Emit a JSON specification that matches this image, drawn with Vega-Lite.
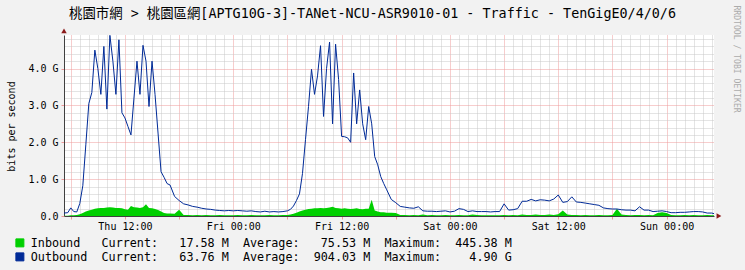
{
  "$schema": "https://vega.github.io/schema/vega-lite/v6.json",
  "width": 650,
  "height": 181,
  "autosize": {"type": "none"},
  "padding": {"left": 64, "top": 35, "right": 31, "bottom": 54},
  "background": "#F2F2F2",
  "view": {"fill": "#FFFFFF", "stroke": null},
  "title": {
    "text": "桃園市網 > 桃園區網[APTG10G-3]-TANet-NCU-ASR9010-01 - Traffic - TenGigE0/4/0/6",
    "font": "DejaVu Sans Mono, Noto Sans CJK TC",
    "fontSize": 13.4,
    "fontWeight": "normal",
    "color": "#000000",
    "anchor": "middle",
    "frame": "group",
    "baseline": "alphabetic",
    "offset": 0,
    "dx": -16.5,
    "dy": 26
  },
  "datasets": {
    "traffic": [
      {"t": "2024-01-04T05:15", "o": 0.08, "i": 0.01},
      {"t": "2024-01-04T05:40", "o": 0.09, "i": 0.01},
      {"t": "2024-01-04T06:00", "o": 0.22, "i": 0.02},
      {"t": "2024-01-04T06:20", "o": 0.12, "i": 0.02},
      {"t": "2024-01-04T06:40", "o": 0.11, "i": 0.03},
      {"t": "2024-01-04T07:00", "o": 0.34, "i": 0.05},
      {"t": "2024-01-04T07:20", "o": 0.82, "i": 0.08},
      {"t": "2024-01-04T07:40", "o": 1.93, "i": 0.12},
      {"t": "2024-01-04T08:00", "o": 3.05, "i": 0.15},
      {"t": "2024-01-04T08:20", "o": 3.35, "i": 0.17},
      {"t": "2024-01-04T08:40", "o": 4.5, "i": 0.2},
      {"t": "2024-01-04T09:00", "o": 4.0, "i": 0.21},
      {"t": "2024-01-04T09:20", "o": 3.3, "i": 0.22},
      {"t": "2024-01-04T09:40", "o": 4.6, "i": 0.22},
      {"t": "2024-01-04T10:00", "o": 2.9, "i": 0.23},
      {"t": "2024-01-04T10:20", "o": 4.9, "i": 0.24},
      {"t": "2024-01-04T10:40", "o": 4.2, "i": 0.23},
      {"t": "2024-01-04T11:00", "o": 3.3, "i": 0.22},
      {"t": "2024-01-04T11:20", "o": 4.78, "i": 0.22},
      {"t": "2024-01-04T11:40", "o": 2.8, "i": 0.21},
      {"t": "2024-01-04T12:00", "o": 2.66, "i": 0.18},
      {"t": "2024-01-04T12:20", "o": 2.43, "i": 0.17},
      {"t": "2024-01-04T12:40", "o": 2.2, "i": 0.27},
      {"t": "2024-01-04T13:00", "o": 3.2, "i": 0.24},
      {"t": "2024-01-04T13:20", "o": 4.2, "i": 0.23},
      {"t": "2024-01-04T13:40", "o": 3.3, "i": 0.22},
      {"t": "2024-01-04T14:00", "o": 4.63, "i": 0.24},
      {"t": "2024-01-04T14:20", "o": 4.2, "i": 0.32},
      {"t": "2024-01-04T14:40", "o": 2.97, "i": 0.22},
      {"t": "2024-01-04T15:00", "o": 4.2, "i": 0.21},
      {"t": "2024-01-04T15:20", "o": 3.3, "i": 0.19},
      {"t": "2024-01-04T15:40", "o": 2.25, "i": 0.16},
      {"t": "2024-01-04T16:00", "o": 1.2, "i": 0.12},
      {"t": "2024-01-04T16:20", "o": 1.05, "i": 0.08},
      {"t": "2024-01-04T16:40", "o": 0.88, "i": 0.07},
      {"t": "2024-01-04T17:00", "o": 0.84, "i": 0.07},
      {"t": "2024-01-04T17:30", "o": 0.53, "i": 0.06},
      {"t": "2024-01-04T18:00", "o": 0.42, "i": 0.17},
      {"t": "2024-01-04T18:30", "o": 0.33, "i": 0.03},
      {"t": "2024-01-04T19:00", "o": 0.3, "i": 0.03},
      {"t": "2024-01-04T19:30", "o": 0.26, "i": 0.02},
      {"t": "2024-01-04T20:00", "o": 0.24, "i": 0.03},
      {"t": "2024-01-04T20:30", "o": 0.21, "i": 0.02},
      {"t": "2024-01-04T21:00", "o": 0.19, "i": 0.03},
      {"t": "2024-01-04T21:30", "o": 0.18, "i": 0.02},
      {"t": "2024-01-04T22:00", "o": 0.16, "i": 0.02},
      {"t": "2024-01-04T22:30", "o": 0.15, "i": 0.03},
      {"t": "2024-01-04T23:00", "o": 0.14, "i": 0.02},
      {"t": "2024-01-04T23:30", "o": 0.15, "i": 0.02},
      {"t": "2024-01-05T00:00", "o": 0.14, "i": 0.02},
      {"t": "2024-01-05T00:30", "o": 0.15, "i": 0.03},
      {"t": "2024-01-05T01:00", "o": 0.14, "i": 0.02},
      {"t": "2024-01-05T01:30", "o": 0.13, "i": 0.02},
      {"t": "2024-01-05T02:00", "o": 0.14, "i": 0.03},
      {"t": "2024-01-05T02:30", "o": 0.12, "i": 0.02},
      {"t": "2024-01-05T03:00", "o": 0.11, "i": 0.02},
      {"t": "2024-01-05T03:30", "o": 0.13, "i": 0.02},
      {"t": "2024-01-05T04:00", "o": 0.11, "i": 0.03},
      {"t": "2024-01-05T04:30", "o": 0.12, "i": 0.02},
      {"t": "2024-01-05T05:00", "o": 0.11, "i": 0.02},
      {"t": "2024-01-05T05:30", "o": 0.12, "i": 0.03},
      {"t": "2024-01-05T06:00", "o": 0.14, "i": 0.03},
      {"t": "2024-01-05T06:20", "o": 0.18, "i": 0.04},
      {"t": "2024-01-05T06:40", "o": 0.27, "i": 0.06},
      {"t": "2024-01-05T07:00", "o": 0.42, "i": 0.09},
      {"t": "2024-01-05T07:20", "o": 0.6, "i": 0.12},
      {"t": "2024-01-05T07:40", "o": 1.15, "i": 0.15},
      {"t": "2024-01-05T08:00", "o": 2.07, "i": 0.17},
      {"t": "2024-01-05T08:20", "o": 2.97, "i": 0.19},
      {"t": "2024-01-05T08:40", "o": 3.98, "i": 0.2},
      {"t": "2024-01-05T09:00", "o": 3.3, "i": 0.21},
      {"t": "2024-01-05T09:20", "o": 3.8, "i": 0.21},
      {"t": "2024-01-05T09:40", "o": 4.62, "i": 0.22},
      {"t": "2024-01-05T10:00", "o": 2.7, "i": 0.21},
      {"t": "2024-01-05T10:20", "o": 4.0, "i": 0.22},
      {"t": "2024-01-05T10:40", "o": 4.72, "i": 0.23},
      {"t": "2024-01-05T11:00", "o": 2.5, "i": 0.25},
      {"t": "2024-01-05T11:20", "o": 4.66, "i": 0.22},
      {"t": "2024-01-05T11:40", "o": 3.7, "i": 0.21},
      {"t": "2024-01-05T12:00", "o": 2.16, "i": 0.2},
      {"t": "2024-01-05T12:20", "o": 2.15, "i": 0.21},
      {"t": "2024-01-05T12:40", "o": 2.12, "i": 0.2},
      {"t": "2024-01-05T13:00", "o": 2.0, "i": 0.19},
      {"t": "2024-01-05T13:20", "o": 3.88, "i": 0.2},
      {"t": "2024-01-05T13:40", "o": 2.5, "i": 0.21},
      {"t": "2024-01-05T14:00", "o": 3.42, "i": 0.19},
      {"t": "2024-01-05T14:20", "o": 2.5, "i": 0.18},
      {"t": "2024-01-05T14:40", "o": 2.07, "i": 0.2},
      {"t": "2024-01-05T15:00", "o": 2.97, "i": 0.2},
      {"t": "2024-01-05T15:20", "o": 2.5, "i": 0.44},
      {"t": "2024-01-05T15:40", "o": 1.61, "i": 0.15},
      {"t": "2024-01-05T16:00", "o": 1.39, "i": 0.12},
      {"t": "2024-01-05T16:20", "o": 1.07, "i": 0.1},
      {"t": "2024-01-05T16:40", "o": 0.88, "i": 0.1},
      {"t": "2024-01-05T17:00", "o": 0.71, "i": 0.09},
      {"t": "2024-01-05T17:30", "o": 0.45, "i": 0.09},
      {"t": "2024-01-05T18:00", "o": 0.36, "i": 0.08},
      {"t": "2024-01-05T18:30", "o": 0.26, "i": 0.03},
      {"t": "2024-01-05T19:00", "o": 0.24, "i": 0.03},
      {"t": "2024-01-05T19:30", "o": 0.22, "i": 0.02},
      {"t": "2024-01-05T20:00", "o": 0.21, "i": 0.03},
      {"t": "2024-01-05T20:30", "o": 0.25, "i": 0.02},
      {"t": "2024-01-05T21:00", "o": 0.14, "i": 0.04},
      {"t": "2024-01-05T21:30", "o": 0.13, "i": 0.02},
      {"t": "2024-01-05T22:00", "o": 0.13, "i": 0.03},
      {"t": "2024-01-05T22:30", "o": 0.12, "i": 0.02},
      {"t": "2024-01-05T23:00", "o": 0.13, "i": 0.02},
      {"t": "2024-01-05T23:30", "o": 0.14, "i": 0.03},
      {"t": "2024-01-06T00:00", "o": 0.11, "i": 0.02},
      {"t": "2024-01-06T00:30", "o": 0.13, "i": 0.02},
      {"t": "2024-01-06T01:00", "o": 0.2, "i": 0.03},
      {"t": "2024-01-06T01:30", "o": 0.18, "i": 0.02},
      {"t": "2024-01-06T02:00", "o": 0.12, "i": 0.02},
      {"t": "2024-01-06T02:30", "o": 0.14, "i": 0.04},
      {"t": "2024-01-06T03:00", "o": 0.12, "i": 0.03},
      {"t": "2024-01-06T03:30", "o": 0.12, "i": 0.02},
      {"t": "2024-01-06T04:00", "o": 0.12, "i": 0.02},
      {"t": "2024-01-06T04:30", "o": 0.11, "i": 0.02},
      {"t": "2024-01-06T05:00", "o": 0.12, "i": 0.02},
      {"t": "2024-01-06T05:30", "o": 0.12, "i": 0.02},
      {"t": "2024-01-06T06:00", "o": 0.33, "i": 0.03},
      {"t": "2024-01-06T06:30", "o": 0.16, "i": 0.02},
      {"t": "2024-01-06T07:00", "o": 0.17, "i": 0.03},
      {"t": "2024-01-06T07:30", "o": 0.2, "i": 0.02},
      {"t": "2024-01-06T08:00", "o": 0.4, "i": 0.04},
      {"t": "2024-01-06T08:30", "o": 0.4, "i": 0.03},
      {"t": "2024-01-06T09:00", "o": 0.45, "i": 0.03},
      {"t": "2024-01-06T09:30", "o": 0.41, "i": 0.04},
      {"t": "2024-01-06T10:00", "o": 0.44, "i": 0.03},
      {"t": "2024-01-06T10:30", "o": 0.43, "i": 0.03},
      {"t": "2024-01-06T11:00", "o": 0.41, "i": 0.04},
      {"t": "2024-01-06T11:30", "o": 0.46, "i": 0.03},
      {"t": "2024-01-06T12:00", "o": 0.57, "i": 0.05},
      {"t": "2024-01-06T12:30", "o": 0.37, "i": 0.15},
      {"t": "2024-01-06T13:00", "o": 0.39, "i": 0.04},
      {"t": "2024-01-06T13:30", "o": 0.52, "i": 0.03},
      {"t": "2024-01-06T14:00", "o": 0.38, "i": 0.03},
      {"t": "2024-01-06T14:30", "o": 0.37, "i": 0.02},
      {"t": "2024-01-06T15:00", "o": 0.35, "i": 0.03},
      {"t": "2024-01-06T15:30", "o": 0.33, "i": 0.02},
      {"t": "2024-01-06T16:00", "o": 0.31, "i": 0.02},
      {"t": "2024-01-06T16:30", "o": 0.29, "i": 0.03},
      {"t": "2024-01-06T17:00", "o": 0.22, "i": 0.02},
      {"t": "2024-01-06T17:30", "o": 0.2, "i": 0.02},
      {"t": "2024-01-06T18:00", "o": 0.19, "i": 0.03},
      {"t": "2024-01-06T18:30", "o": 0.19, "i": 0.2},
      {"t": "2024-01-06T19:00", "o": 0.17, "i": 0.04},
      {"t": "2024-01-06T19:30", "o": 0.16, "i": 0.03},
      {"t": "2024-01-06T20:00", "o": 0.16, "i": 0.02},
      {"t": "2024-01-06T20:30", "o": 0.14, "i": 0.03},
      {"t": "2024-01-06T21:00", "o": 0.25, "i": 0.03},
      {"t": "2024-01-06T21:30", "o": 0.16, "i": 0.02},
      {"t": "2024-01-06T22:00", "o": 0.16, "i": 0.03},
      {"t": "2024-01-06T22:30", "o": 0.12, "i": 0.02},
      {"t": "2024-01-06T23:00", "o": 0.13, "i": 0.08},
      {"t": "2024-01-06T23:30", "o": 0.14, "i": 0.1},
      {"t": "2024-01-07T00:00", "o": 0.12, "i": 0.08},
      {"t": "2024-01-07T00:30", "o": 0.09, "i": 0.03},
      {"t": "2024-01-07T01:00", "o": 0.09, "i": 0.02},
      {"t": "2024-01-07T01:30", "o": 0.1, "i": 0.02},
      {"t": "2024-01-07T02:00", "o": 0.1, "i": 0.03},
      {"t": "2024-01-07T02:30", "o": 0.11, "i": 0.02},
      {"t": "2024-01-07T03:00", "o": 0.12, "i": 0.03},
      {"t": "2024-01-07T03:30", "o": 0.12, "i": 0.02},
      {"t": "2024-01-07T04:00", "o": 0.11, "i": 0.02},
      {"t": "2024-01-07T04:30", "o": 0.08, "i": 0.03},
      {"t": "2024-01-07T05:00", "o": 0.08, "i": 0.02},
      {"t": "2024-01-07T05:15", "o": 0.064, "i": 0.018}
    ]
  },
  "layer": [
    {
      "data": {"name": "traffic"},
      "mark": {"type": "area", "interpolate": "linear", "opacity": 1},
      "encoding": {
        "x": {
          "field": "t", "type": "temporal",
          "scale": {"domain": [
            {"year": 2024, "month": 1, "date": 4, "hours": 5, "minutes": 15},
            {"year": 2024, "month": 1, "date": 7, "hours": 5, "minutes": 15}
          ]},
          "axis": {
            "orient": "bottom",
            "tickCount": 1000,
            "values": [
              {"year": 2024, "month": 1, "date": 4, "hours": 6}, {"year": 2024, "month": 1, "date": 4, "hours": 7}, {"year": 2024, "month": 1, "date": 4, "hours": 8}, {"year": 2024, "month": 1, "date": 4, "hours": 9}, {"year": 2024, "month": 1, "date": 4, "hours": 10}, {"year": 2024, "month": 1, "date": 4, "hours": 11},
              {"year": 2024, "month": 1, "date": 4, "hours": 12}, {"year": 2024, "month": 1, "date": 4, "hours": 13}, {"year": 2024, "month": 1, "date": 4, "hours": 14}, {"year": 2024, "month": 1, "date": 4, "hours": 15}, {"year": 2024, "month": 1, "date": 4, "hours": 16}, {"year": 2024, "month": 1, "date": 4, "hours": 17},
              {"year": 2024, "month": 1, "date": 4, "hours": 18}, {"year": 2024, "month": 1, "date": 4, "hours": 19}, {"year": 2024, "month": 1, "date": 4, "hours": 20}, {"year": 2024, "month": 1, "date": 4, "hours": 21}, {"year": 2024, "month": 1, "date": 4, "hours": 22}, {"year": 2024, "month": 1, "date": 4, "hours": 23},
              {"year": 2024, "month": 1, "date": 5, "hours": 0}, {"year": 2024, "month": 1, "date": 5, "hours": 1}, {"year": 2024, "month": 1, "date": 5, "hours": 2}, {"year": 2024, "month": 1, "date": 5, "hours": 3}, {"year": 2024, "month": 1, "date": 5, "hours": 4}, {"year": 2024, "month": 1, "date": 5, "hours": 5},
              {"year": 2024, "month": 1, "date": 5, "hours": 6}, {"year": 2024, "month": 1, "date": 5, "hours": 7}, {"year": 2024, "month": 1, "date": 5, "hours": 8}, {"year": 2024, "month": 1, "date": 5, "hours": 9}, {"year": 2024, "month": 1, "date": 5, "hours": 10}, {"year": 2024, "month": 1, "date": 5, "hours": 11},
              {"year": 2024, "month": 1, "date": 5, "hours": 12}, {"year": 2024, "month": 1, "date": 5, "hours": 13}, {"year": 2024, "month": 1, "date": 5, "hours": 14}, {"year": 2024, "month": 1, "date": 5, "hours": 15}, {"year": 2024, "month": 1, "date": 5, "hours": 16}, {"year": 2024, "month": 1, "date": 5, "hours": 17},
              {"year": 2024, "month": 1, "date": 5, "hours": 18}, {"year": 2024, "month": 1, "date": 5, "hours": 19}, {"year": 2024, "month": 1, "date": 5, "hours": 20}, {"year": 2024, "month": 1, "date": 5, "hours": 21}, {"year": 2024, "month": 1, "date": 5, "hours": 22}, {"year": 2024, "month": 1, "date": 5, "hours": 23},
              {"year": 2024, "month": 1, "date": 6, "hours": 0}, {"year": 2024, "month": 1, "date": 6, "hours": 1}, {"year": 2024, "month": 1, "date": 6, "hours": 2}, {"year": 2024, "month": 1, "date": 6, "hours": 3}, {"year": 2024, "month": 1, "date": 6, "hours": 4}, {"year": 2024, "month": 1, "date": 6, "hours": 5},
              {"year": 2024, "month": 1, "date": 6, "hours": 6}, {"year": 2024, "month": 1, "date": 6, "hours": 7}, {"year": 2024, "month": 1, "date": 6, "hours": 8}, {"year": 2024, "month": 1, "date": 6, "hours": 9}, {"year": 2024, "month": 1, "date": 6, "hours": 10}, {"year": 2024, "month": 1, "date": 6, "hours": 11},
              {"year": 2024, "month": 1, "date": 6, "hours": 12}, {"year": 2024, "month": 1, "date": 6, "hours": 13}, {"year": 2024, "month": 1, "date": 6, "hours": 14}, {"year": 2024, "month": 1, "date": 6, "hours": 15}, {"year": 2024, "month": 1, "date": 6, "hours": 16}, {"year": 2024, "month": 1, "date": 6, "hours": 17},
              {"year": 2024, "month": 1, "date": 6, "hours": 18}, {"year": 2024, "month": 1, "date": 6, "hours": 19}, {"year": 2024, "month": 1, "date": 6, "hours": 20}, {"year": 2024, "month": 1, "date": 6, "hours": 21}, {"year": 2024, "month": 1, "date": 6, "hours": 22}, {"year": 2024, "month": 1, "date": 6, "hours": 23},
              {"year": 2024, "month": 1, "date": 7, "hours": 0}, {"year": 2024, "month": 1, "date": 7, "hours": 1}, {"year": 2024, "month": 1, "date": 7, "hours": 2}, {"year": 2024, "month": 1, "date": 7, "hours": 3}, {"year": 2024, "month": 1, "date": 7, "hours": 4}, {"year": 2024, "month": 1, "date": 7, "hours": 5}
            ],
            "grid": true,
            "gridColor": {"condition": {"test": "hours(datum.value) % 6 === 0", "value": "#EE9A9A"}, "value": "#C8C8C8"},
            "gridDash": [1, 1],
            "ticks": true,
            "tickSize": 3,
            "tickColor": {"condition": {"test": "hours(datum.value) % 6 === 0", "value": "#EE9A9A"}, "value": "transparent"},
            "labelExpr": "hours(datum.value) % 12 === 0 ? timeFormat(datum.value, '%a %H:%M') : ''",
            "labelOverlap": false,
            "labelFlush": false,
            "labelPadding": 2,
            "labelFont": "DejaVu Sans Mono", "labelFontSize": 10, "labelColor": "#000000",
            "domainColor": "#404040",
            "title": "RRDTOOL / TOBI OETIKER",
            "titleFont": "DejaVu Sans Mono",
            "titleFontSize": 8.1,
            "titleFontWeight": "normal",
            "titleColor": "#ABABAB",
            "titleAngle": 90,
            "titleX": 671,
            "titleY": -211,
            "titleAlign": "left",
            "titleBaseline": "middle"
          }
        },
        "y": {
          "field": "i", "type": "quantitative",
          "scale": {"domain": [0, 4.91], "nice": false, "zero": true},
          "axis": {
            "orient": "left",
            "tickCount": 1000,
            "values": [0, 0.2, 0.4, 0.6, 0.8, 1, 1.2, 1.4, 1.6, 1.8, 2, 2.2, 2.4, 2.6, 2.8, 3, 3.2, 3.4, 3.6, 3.8, 4, 4.2, 4.4, 4.6, 4.8],
            "grid": true,
            "gridColor": {"condition": {"test": "round(datum.value * 5) % 5 === 0", "value": "#EE9A9A"}, "value": "#C8C8C8"},
            "gridDash": [1, 1],
            "ticks": true,
            "tickSize": 3,
            "tickColor": {"condition": {"test": "round(datum.value * 5) % 5 === 0", "value": "#EE9A9A"}, "value": "transparent"},
            "labelExpr": "datum.value == 0 ? '0.0\u00a0\u00a0' : (round(datum.value * 5) % 5 === 0 ? format(datum.value, '.1f') + '\u00a0G' : '')",
            "labelOverlap": false,
            "labelPadding": 3,
            "labelFont": "DejaVu Sans Mono", "labelFontSize": 10, "labelColor": "#000000",
            "domainColor": "#404040",
            "title": "bits per second",
            "titleFont": "DejaVu Sans Mono", "titleFontSize": 10, "titleFontWeight": "normal", "titleColor": "#000000",
            "titleX": -53, "titleY": 91, "titleAlign": "center", "titleBaseline": "middle"
          }
        },
        "color": {
          "datum": "Inbound", "type": "nominal",
          "scale": {"domain": ["Inbound", "Outbound"], "range": ["#00CF00", "#002A97"]},
          "legend": {
            "orient": "none",
            "legendX": -50,
            "legendY": 202,
            "title": null,
            "direction": "vertical",
            "symbolType": "square",
            "symbolSize": 64,
            "symbolStrokeColor": "#000000",
            "symbolStrokeWidth": 1,
            "labelFont": "DejaVu Sans Mono",
            "labelFontSize": 11.75,
            "labelColor": "#000000",
            "labelLimit": 1000,
            "labelOffset": 5,
            "rowPadding": 0,
            "labelExpr": "datum.label == 'Inbound' ? 'Inbound\u00a0\u00a0\u00a0Current:\u00a0\u00a0\u00a017.58\u00a0M\u00a0\u00a0Average:\u00a0\u00a0\u00a075.53\u00a0M\u00a0\u00a0Maximum:\u00a0\u00a0445.38\u00a0M' : 'Outbound\u00a0\u00a0Current:\u00a0\u00a0\u00a063.76\u00a0M\u00a0\u00a0Average:\u00a0\u00a0904.03\u00a0M\u00a0\u00a0Maximum:\u00a0\u00a0\u00a0\u00a04.90\u00a0G'"
          }
        }
      }
    },
    {
      "data": {"name": "traffic"},
      "mark": {"type": "line", "interpolate": "linear", "strokeWidth": 1, "opacity": 1},
      "encoding": {
        "x": {"field": "t", "type": "temporal"},
        "y": {"field": "o", "type": "quantitative"},
        "color": {"datum": "Outbound", "type": "nominal"}
      }
    },
    {
      "data": {"values": [{"t": "2024-01-04T05:15", "v": 5.02}]},
      "mark": {"type": "point", "shape": "triangle-up", "filled": true, "opacity": 1, "color": "#8B1A1A", "size": 30},
      "encoding": {
        "x": {"field": "t", "type": "temporal"},
        "y": {"field": "v", "type": "quantitative"}
      }
    },
    {
      "data": {"values": [{"t": "2024-01-07T05:48", "v": 0}]},
      "mark": {"type": "point", "shape": "triangle-right", "filled": true, "opacity": 1, "color": "#8B1A1A", "size": 30},
      "encoding": {
        "x": {"field": "t", "type": "temporal"},
        "y": {"field": "v", "type": "quantitative"}
      }
    }
  ]
}
